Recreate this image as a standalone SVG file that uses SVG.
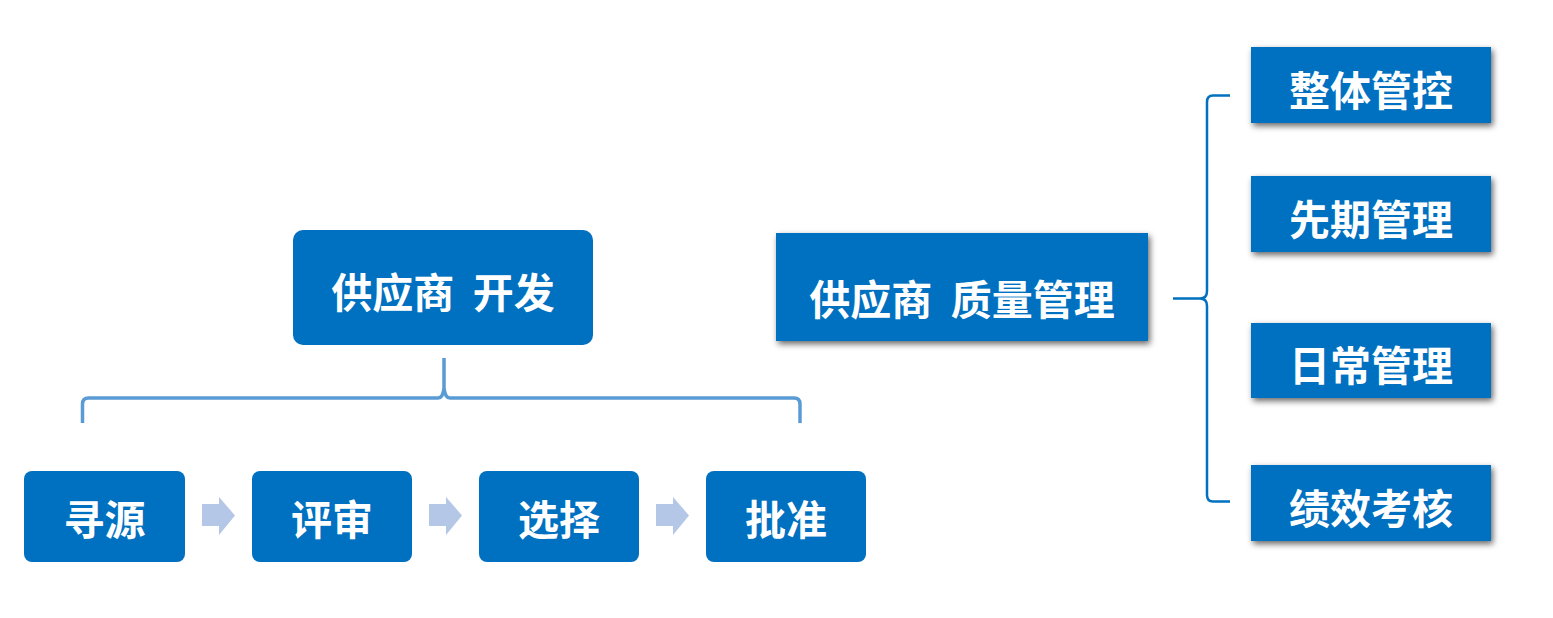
<svg xmlns="http://www.w3.org/2000/svg" width="1553" height="618" viewBox="0 0 1553 618">
<style>
.box{fill:#0070C0}
.lbl{font-family:"Noto Sans CJK SC","Noto Sans",sans-serif;font-weight:700;font-size:41px;fill:#FFFFFF;text-anchor:middle;dominant-baseline:central}
.brace1{fill:none;stroke:#5B9BD5;stroke-width:3.5;stroke-linejoin:round}
.brace2{fill:none;stroke:#0070C0;stroke-width:2.5;stroke-linejoin:round}
.arrow{fill:#B4C7E7}
</style>
<defs>
<filter id="sh" x="-10%" y="-20%" width="125%" height="150%">
<feDropShadow dx="2" dy="3" stdDeviation="3" flood-color="#000" flood-opacity="0.6"/>
</filter>
</defs>
<rect width="1553" height="618" fill="#FFFFFF"/>
<g id="connectors">
<path class="brace1" d="M82.5,423 V404 Q82.5,398 88.5,398 H438 Q443,398 444,388 V358 M444,388 Q445,398 450,398 H794 Q800,398 800,404 V423"/>
<polygon class="arrow" points="202,504 219,504 219,497 235,515.5 219,535 219,526 202,526"/>
<polygon class="arrow" points="429,504 446,504 446,497 462,515.5 446,535 446,526 429,526"/>
<polygon class="arrow" points="656,504 673,504 673,497 689,515.5 673,535 673,526 656,526"/>
<path class="brace2" d="M1230,95.5 H1213 Q1207,95.5 1207,102 V291 Q1207,298.5 1200,298.5 H1173 M1200,298.5 Q1207,298.5 1207,306 V495 Q1207,501.5 1213,501.5 H1230"/>
</g>
<g id="dev">
<rect class="box" x="293" y="230" width="300" height="115" rx="10"/>
<text class="lbl" x="443" y="290" xml:space="preserve">供应商  开发</text>
</g>
<g id="src">
<rect class="box" x="24" y="471" width="161" height="91" rx="8"/>
<text class="lbl" x="104.5" y="517">寻源</text>
</g>
<g id="review">
<rect class="box" x="252" y="471" width="160" height="91" rx="8"/>
<text class="lbl" x="332" y="517">评审</text>
</g>
<g id="select">
<rect class="box" x="479" y="471" width="160" height="91" rx="8"/>
<text class="lbl" x="559" y="517">选择</text>
</g>
<g id="approve">
<rect class="box" x="706" y="471" width="160" height="91" rx="8"/>
<text class="lbl" x="786" y="517">批准</text>
</g>
<g id="qm">
<rect class="box" x="776" y="233" width="372" height="108" filter="url(#sh)"/>
<text class="lbl" x="962" y="297" xml:space="preserve">供应商  质量管理</text>
</g>
<g id="overall">
<rect class="box" x="1251" y="47" width="240" height="76" filter="url(#sh)"/>
<text class="lbl" x="1371" y="88">整体管控</text>
</g>
<g id="early">
<rect class="box" x="1251" y="176" width="240" height="76" filter="url(#sh)"/>
<text class="lbl" x="1371" y="217">先期管理</text>
</g>
<g id="daily">
<rect class="box" x="1251" y="323" width="240" height="75" filter="url(#sh)"/>
<text class="lbl" x="1371" y="363">日常管理</text>
</g>
<g id="perf">
<rect class="box" x="1251" y="465" width="240" height="76" filter="url(#sh)"/>
<text class="lbl" x="1371" y="506">绩效考核</text>
</g>
</svg>
